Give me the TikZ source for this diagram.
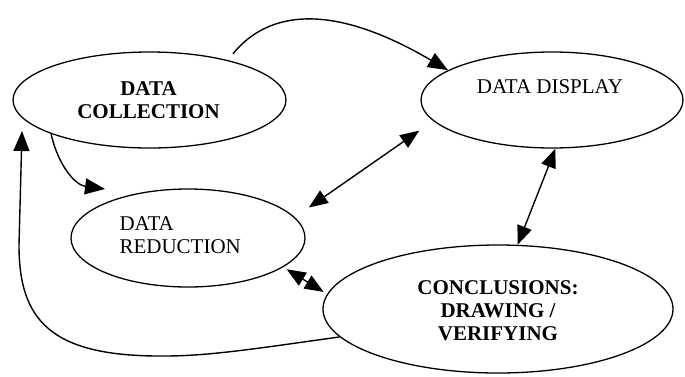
\documentclass[tikz,border=0pt]{standalone}
\usepackage{fontspec}
\setmainfont{Liberation Serif}
\usetikzlibrary{arrows.meta,shapes.geometric}

\tikzset{
  blob/.style={ellipse, draw, line width=1.3pt, inner sep=0pt},
  lbl/.style={inner sep=0pt, align=center, font=\fontsize{21}{23}\selectfont},
  lblbold/.style={lbl, font=\fontsize{21}{23}\selectfont\bfseries},
  arr/.style={line width=1.4pt, -{Triangle[length=20pt,width=16pt]}},
  dbl/.style={line width=1.4pt, {Triangle[length=19pt,width=15pt]}-{Triangle[length=19pt,width=15pt]}}
}

\begin{document}
\begin{tikzpicture}[x=1pt,y=-1pt]
\useasboundingbox (0,0) rectangle (685,376);

\node [blob, minimum width=273pt, minimum height=96pt] (collect) at (149.5,100) {};
\node [blob, minimum width=262pt, minimum height=96pt] (display) at (552,100) {};
\node [blob, minimum width=234pt, minimum height=98pt] (reduce) at (188,238) {};
\node [blob, minimum width=350pt, minimum height=128pt] (concl) at (498,309) {};

\node [lblbold] (collecttext) at ([xshift=-1pt]collect) {DATA\\COLLECTION};
\node [lbl] (displaytext) at ([xshift=-2pt,yshift=13pt]display) {DATA DISPLAY};
\node [lbl, align=left, anchor=west] (reducetext) at ([xshift=49pt,yshift=3pt]reduce.west) {DATA\\REDUCTION};
\node [lblbold] (concltext) at ([yshift=-2pt]concl) {CONCLUSIONS:\\DRAWING /\\VERIFYING};

\coordinate (reducetip) at ([xshift=-83pt,yshift=49pt]reduce.center);
\coordinate (looptip) at ([xshift=-127.5pt,yshift=-31pt]collect.center);

\draw [arr, shorten <=8pt] (collect.27) .. controls (262,18) and (320,-5) .. (display.164);
\draw [arr] (collect.199) .. controls (58,165) and (75,185) .. (reducetip);
\draw [dbl, shorten <=17pt, shorten >=17pt] (reduce.11.6) -- (display.190);
\draw [dbl] (display.274) -- (concl.73);
\draw [dbl, shorten <=4pt, shorten >=4pt] (reduce.-17) -- (concl.175);
\draw [arr] (concl.190) .. controls (260,348) and (210,356) .. (165,356)
  .. controls (50,357) and (19,320) .. (19,245) -- (looptip);
\end{tikzpicture}
\end{document}
